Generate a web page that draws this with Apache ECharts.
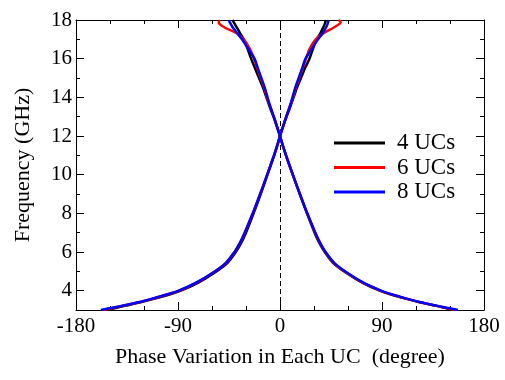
<!DOCTYPE html>
<html><head><meta charset="utf-8">
<script src="https://cdn.jsdelivr.net/npm/echarts@6/dist/echarts.min.js"></script>
<style>html,body{margin:0;padding:0;background:#fff}#c{width:505px;height:380px}</style>
</head><body><div id="c"></div>
<script>
// Frequency samples (GHz)
const freq = [3.0, 3.1, 3.2, 3.3, 3.4, 3.6, 3.8, 4.0, 4.4, 4.9, 5.4, 6.0, 6.5, 7.0, 8.0, 9.0, 10.0, 11.0, 11.5, 12.0, 12.5, 13.0, 13.5, 14.0, 14.5, 15.0, 15.5, 16.0, 16.5, 17.0, 17.3, 17.6, 17.8, 17.9, 18.0];
// Phase (degree), branch A: bottom-right -> top-left ; branch B: bottom-left -> top-right
const phase4A = [153, 146, 139, 131, 123.5, 110, 98, 88, 73, 59, 47.5, 39.5, 34.5, 30.5, 23.8, 17.5, 11.2, 5.3, 2.5, 0, -2.8, -5.8, -9, -12, -15, -18.5, -22, -25.5, -28.5, -32, -35, -38, -40, -41, -42];
const phase4B = [-152, -145, -138, -130.5, -123, -109.5, -97.5, -87.5, -72.5, -58.5, -47, -39, -34, -30, -23.3, -17, -11, -5.1, -2.4, 0, 2.8, 5.8, 9, 12, 15, 18.5, 22, 26, 29, 32.5, 35.5, 38, 39.5, 40, 40.5];
const phase6A = [155, 147, 139.5, 131.5, 123.5, 110.5, 98.5, 88.5, 73.5, 59.5, 48, 40, 35, 31, 24, 17.5, 11.3, 5.3, 2.5, 0, -2.7, -5.5, -8.5, -11.5, -14, -17, -20, -23, -26.5, -32, -38, -48.5, -53.5, -54, -53];
const phase6B = [-156, -148, -140.5, -132.5, -124.5, -111.5, -99.5, -89, -74, -60, -48.2, -40, -35, -31, -24, -17.5, -11.3, -5.3, -2.5, 0, 2.7, 5.5, 8.5, 11.5, 14, 17, 20, 23, 26, 31.5, 38, 47, 52.5, 53.5, 51.5];
const phase8A = [157, 148, 140, 132, 124, 111, 99, 89, 74, 60, 48.5, 40.2, 35.2, 31.2, 24, 17.5, 11.3, 5.3, 2.5, 0, -2.7, -5.5, -8.5, -11, -13.5, -16.5, -19.5, -22.5, -28, -33.5, -37.5, -41.5, -43.5, -44.5, -45];
const phase8B = [-158, -149, -141, -133, -125, -112, -100, -89.5, -74.5, -60, -48.5, -40.2, -35.2, -31.2, -24, -17.5, -11.3, -5.3, -2.5, 0, 2.7, 5.5, 8.5, 11, 13.5, 16.5, 19.5, 22.5, 28, 33.5, 37.5, 40.5, 42, 42.5, 43];

const seriesNames = ['4 UCs', '6 UCs', '8 UCs'];
const seriesColors = ['#000000', '#ff0000', '#0000ff'];
const yMajorTicks = [4, 6, 8, 10, 12, 14, 16, 18];
const yMinorTicks = [3, 5, 7, 9, 11, 13, 15, 17];

const FONT = 'Liberation Serif';
const branches = [
  [seriesNames[0], seriesColors[0], phase4A],
  [seriesNames[0], seriesColors[0], phase4B],
  [seriesNames[1], seriesColors[1], phase6A],
  [seriesNames[1], seriesColors[1], phase6B],
  [seriesNames[2], seriesColors[2], phase8A],
  [seriesNames[2], seriesColors[2], phase8B]
];

const series = branches.map(function (b, i) {
  const s = {
    type: 'line',
    name: b[0],
    data: b[2].map(function (p, k) { return [p, freq[k]]; }),
    symbol: 'none',
    showSymbol: false,
    smooth: 0.3,
    lineStyle: { color: b[1], width: 2.5 },
    itemStyle: { color: b[1] },
    z: 3 + i,
    silent: true
  };
  if (i === 0) {
    s.markLine = {
      silent: true, symbol: 'none', label: { show: false },
      lineStyle: { color: '#000', width: 1, type: [5, 3] },
      data: [{ xAxis: 0 }]
    };
  }
  return s;
});

const xBase = {
  type: 'value', min: -180, max: 180, interval: 90,
  axisLine: { show: true, onZero: false, lineStyle: { color: '#000', width: 1 } },
  axisTick: { show: true, inside: true, length: 8, lineStyle: { color: '#000', width: 1 } },
  minorTick: { show: true, splitNumber: 3, length: 4, lineStyle: { color: '#000', width: 1 } },
  splitLine: { show: false }, minorSplitLine: { show: false }
};
const yBase = {
  type: 'value', min: 3, max: 18,
  axisLine: { show: true, onZero: false, lineStyle: { color: '#000', width: 1 } },
  splitLine: { show: false }
};

const option = {
  animation: false,
  backgroundColor: '#fff',
  grid: { left: 76, right: 21, top: 20, bottom: 70, containLabel: false },
  xAxis: [
    Object.assign({}, xBase, {
      position: 'bottom',
      axisLabel: { color: '#000', fontFamily: FONT, fontSize: 21, margin: 6 },
      name: 'Phase Variation in Each UC  (degree)',
      nameLocation: 'middle', nameGap: 36,
      nameTextStyle: { color: '#000', fontFamily: FONT, fontSize: 22 }
    }),
    Object.assign({}, xBase, { position: 'top', axisLabel: { show: false } })
  ],
  yAxis: [
    Object.assign({}, yBase, {
      position: 'left',
      axisTick: { show: true, inside: true, length: 8, customValues: yMajorTicks, lineStyle: { color: '#000' } },
      axisLabel: { customValues: yMajorTicks, color: '#000', fontFamily: FONT, fontSize: 21, margin: 4 },
      name: 'Frequency (GHz)', nameLocation: 'middle', nameRotate: 90, nameGap: 42,
      nameTextStyle: { color: '#000', fontFamily: FONT, fontSize: 22 }
    }),
    Object.assign({}, yBase, {
      position: 'left', axisLine: { show: false, onZero: false },
      axisTick: { show: true, inside: true, length: 4, customValues: yMinorTicks, lineStyle: { color: '#000' } },
      axisLabel: { show: false }
    }),
    Object.assign({}, yBase, {
      position: 'right',
      axisTick: { show: true, inside: true, length: 8, customValues: yMajorTicks, lineStyle: { color: '#000' } },
      axisLabel: { show: false }
    }),
    Object.assign({}, yBase, {
      position: 'right', axisLine: { show: false, onZero: false },
      axisTick: { show: true, inside: true, length: 4, customValues: yMinorTicks, lineStyle: { color: '#000' } },
      axisLabel: { show: false }
    })
  ],
  legend: {
    orient: 'vertical', left: 334, top: 131, padding: 0,
    icon: 'rect', itemWidth: 51, itemHeight: 3, itemGap: 0.5,
    data: seriesNames,
    textStyle: { color: '#000', fontFamily: FONT, fontSize: 23, lineHeight: 24, padding: [0, 0, 0, 7] }
  },
  series: series
};

const chart = echarts.init(document.getElementById('c'), null, { renderer: 'canvas' });
chart.setOption(option);
</script>
</body></html>
